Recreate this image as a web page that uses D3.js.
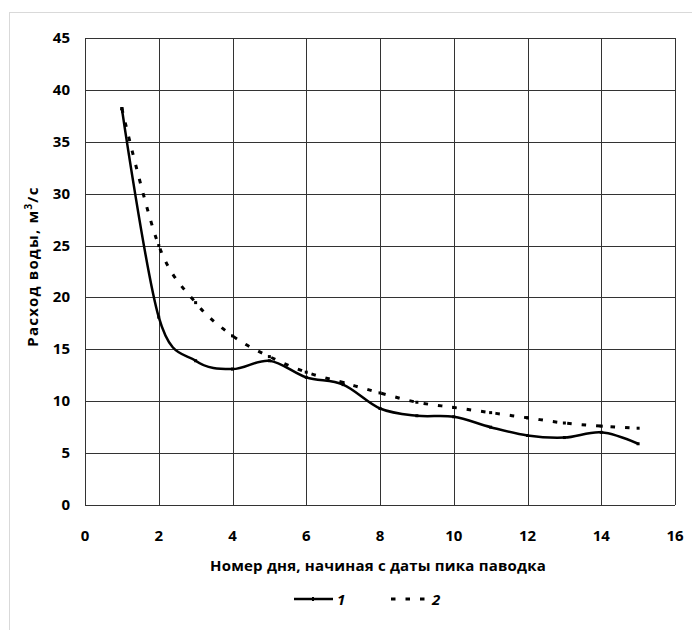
<!DOCTYPE html>
<html>
<head>
<meta charset="utf-8">
<script src="https://cdn.jsdelivr.net/npm/d3@7"></script>
<style>
    body { margin: 0; background: #ffffff; }
    text { font-family: "Open Sans", "Noto Sans", sans-serif; font-weight: bold; fill: #000; }
</style>
</head>
<body>
<div id="chart"></div>
<script>
// Day number after flood peak
const days = [1, 2, 3, 4, 5, 6, 7, 8, 9, 10, 11, 12, 13, 14, 15];
// Series 1 - observed discharge, m3/s
const series1 = [38.2, 18.1, 13.9, 13.1, 13.9, 12.3, 11.6, 9.3, 8.6, 8.5, 7.5, 6.7, 6.5, 7.0, 5.9];
// Series 2 - calculated discharge, m3/s
const series2 = [38.2, 25.0, 19.5, 16.3, 14.3, 12.8, 11.8, 10.8, 9.9, 9.4, 8.9, 8.4, 7.9, 7.6, 7.4];
const xTicks = [0, 2, 4, 6, 8, 10, 12, 14, 16];
const yTicks = [0, 5, 10, 15, 20, 25, 30, 35, 40, 45];
const legendLabels = ["1", "2"];

const width = 692, height = 630;
const plot = { left: 85, right: 675, top: 38, bottom: 505 };

const svg = d3.select("#chart")
    .append("svg")
    .attr("width", width)
    .attr("height", height);

// outer chart frame (runs off the picture at right and bottom)
svg.append("rect")
    .attr("x", 9.5)
    .attr("y", 12.5)
    .attr("width", 720)
    .attr("height", 700)
    .attr("fill", "none")
    .attr("stroke", "#d9d9d9");

const x = d3.scaleLinear().domain([0, 16]).range([plot.left, plot.right]);
const y = d3.scaleLinear().domain([0, 45]).range([plot.bottom, plot.top]);

// grid lines
const grid = svg.append("g")
    .attr("stroke", "#333")
    .attr("stroke-width", 1)
    .attr("shape-rendering", "crispEdges");

grid.selectAll(".v")
    .data(xTicks)
    .enter().append("line")
    .attr("x1", d => Math.round(x(d)) + 0.5)
    .attr("x2", d => Math.round(x(d)) + 0.5)
    .attr("y1", plot.top)
    .attr("y2", plot.bottom);

grid.selectAll(".h")
    .data(yTicks)
    .enter().append("line")
    .attr("x1", plot.left)
    .attr("x2", plot.right)
    .attr("y1", d => Math.round(y(d)) + 0.5)
    .attr("y2", d => Math.round(y(d)) + 0.5);

// tick labels
svg.append("g")
    .selectAll("text")
    .data(xTicks)
    .enter().append("text")
    .attr("x", d => x(d))
    .attr("y", 541)
    .attr("text-anchor", "middle")
    .style("font-size", "15px")
    .text(d => d);

svg.append("g")
    .selectAll("text")
    .data(yTicks)
    .enter().append("text")
    .attr("x", 70)
    .attr("y", d => y(d) + 5)
    .attr("text-anchor", "end")
    .style("font-size", "15px")
    .text(d => d);

// axis titles
svg.append("text")
    .attr("x", (plot.left + plot.right) / 2 - 2)
    .attr("y", 571)
    .attr("text-anchor", "middle")
    .style("font-size", "15px")
    .style("letter-spacing", "0.2px")
    .text("Номер дня, начиная с даты пика паводка");

const yTitle = svg.append("text")
    .attr("transform", `translate(38,${(plot.top + plot.bottom) / 2 - 5}) rotate(-90)`)
    .attr("text-anchor", "middle")
    .style("font-size", "15px")
    .style("letter-spacing", "1.2px");
yTitle.append("tspan").text("Расход воды, м");
yTitle.append("tspan").attr("dy", -6).style("font-size", "10px").text("3");
yTitle.append("tspan").attr("dy", 6).text("/с");

// smoothed lines like the spreadsheet chart
const line = d3.line()
    .x(d => x(d[0]))
    .y(d => y(d[1]))
    .curve(d3.curveCatmullRom.alpha(0));

const pts1 = days.map((d, i) => [d, series1[i]]);
const pts2 = days.map((d, i) => [d, series2[i]]);

svg.append("path")
    .attr("d", line(pts2))
    .attr("fill", "none")
    .attr("stroke", "#000")
    .attr("stroke-width", 3)
    .attr("stroke-dasharray", "4.5,10");

svg.append("path")
    .attr("d", line(pts1))
    .attr("fill", "none")
    .attr("stroke", "#000")
    .attr("stroke-width", 2.5);

// small point markers
svg.append("g")
    .selectAll("rect")
    .data(pts1.concat(pts2))
    .enter().append("rect")
    .attr("x", d => x(d[0]) - 1.5)
    .attr("y", d => y(d[1]) - 1.5)
    .attr("width", 3)
    .attr("height", 3)
    .attr("fill", "#000");

// legend
const legend = svg.append("g");
legend.append("line")
    .attr("x1", 294).attr("x2", 333)
    .attr("y1", 599).attr("y2", 599)
    .attr("stroke", "#000").attr("stroke-width", 2.5);
legend.append("rect")
    .attr("x", 312).attr("y", 597).attr("width", 2).attr("height", 4)
    .attr("fill", "#000");
legend.append("text")
    .attr("x", 337).attr("y", 605)
    .style("font-size", "15px").style("font-style", "italic")
    .text(legendLabels[0]);

legend.append("line")
    .attr("x1", 391).attr("x2", 426)
    .attr("y1", 599).attr("y2", 599)
    .attr("stroke", "#000").attr("stroke-width", 3)
    .attr("stroke-dasharray", "4.5,10");
legend.append("text")
    .attr("x", 432).attr("y", 605)
    .style("font-size", "15px").style("font-style", "italic")
    .text(legendLabels[1]);
</script>
</body>
</html>
